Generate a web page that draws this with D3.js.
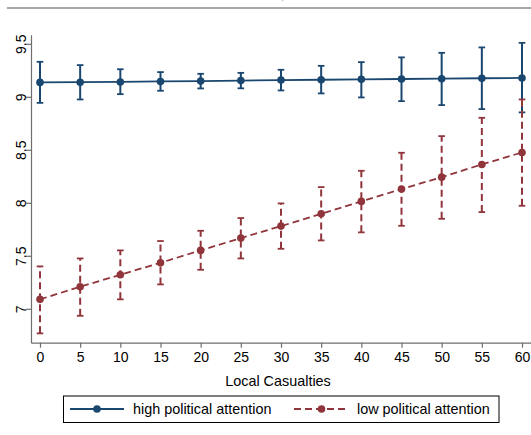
<!DOCTYPE html>
<meta charset="utf-8">
<script src="https://cdn.jsdelivr.net/npm/d3@7"></script>
<style>
	body{margin:0;background:#fff;font-family:"Liberation Sans",Arial,sans-serif;}
	svg text{font-family:"Liberation Sans",Arial,sans-serif;}
</style>
<div id="chart"></div>
<script>
// local casualties on the x axis
var casualties = [0,5,10,15,20,25,30,35,40,45,50,55,60]
// high political attention: point estimate and 95% CI
var highEst = [9.136,9.138,9.140,9.145,9.148,9.153,9.158,9.161,9.165,9.168,9.171,9.175,9.178]
var highLo  = [8.943,8.975,9.025,9.057,9.079,9.080,9.060,9.032,8.994,8.959,8.922,8.884,8.853]
var highHi  = [9.330,9.299,9.260,9.233,9.217,9.226,9.255,9.292,9.327,9.372,9.415,9.466,9.509]
// low political attention
var lowEst = [7.089,7.208,7.321,7.434,7.551,7.667,7.780,7.896,8.013,8.129,8.242,8.362,8.475]
var lowLo  = [6.768,6.934,7.089,7.230,7.368,7.475,7.566,7.645,7.721,7.783,7.849,7.912,7.972]
var lowHi  = [7.400,7.475,7.551,7.639,7.736,7.856,7.994,8.148,8.302,8.472,8.629,8.802,8.975]

var yTicks = [7,7.5,8,8.5,9,9.5]
var xTicks = casualties
var xTitle = "Local Casualties"
var legendNames = ["high political attention","low political attention"]

var navy = "#1a476f", maroon = "#90353b"

var svg = d3.select("#chart").append("svg")
	.attr("width",531)
	.attr("height",435)

// top border of the graph region (the title above is cut off)
svg.append("line").attr("x1",7).attr("x2",531).attr("y1",8).attr("y2",8)
	.attr("stroke","#8a8a8a").attr("stroke-width",1.3)
svg.append("text").attr("x",281).attr("y",-1).attr("font-size",12).text(",")

var x = d3.scaleLinear().domain([-1.12,61.12]).range([31,531])
var y = d3.scaleLinear().domain([6.68,9.585]).range([342.7,34.8])

var yAxis = d3.axisLeft(y).tickValues(yTicks).tickSize(5).tickSizeOuter(0)
	.tickFormat(function(d){return d3.format("")(d)})
var xAxis = d3.axisBottom(x).tickValues(xTicks).tickSize(5).tickSizeOuter(0)

var gy = svg.append("g").attr("transform","translate(31,0)").call(yAxis)
gy.selectAll("text").attr("transform","rotate(-90)")
	.attr("x",0).attr("y",-5).attr("dy","0")
	.attr("text-anchor","middle")
	.attr("font-size",14).attr("fill","#000")

var gx = svg.append("g").attr("transform","translate(0,342.7)").call(xAxis)
gx.selectAll("text").attr("font-size",14).attr("fill","#000").attr("y",9)

svg.selectAll(".domain, .tick line").attr("stroke","#6e6e6e").attr("stroke-width",1.2)

svg.append("text").attr("x",278).attr("y",386).attr("text-anchor","middle")
	.attr("font-size",14.4).text(xTitle)

function drawSeries(est,lo,hi,color,dash){
	var pts = casualties.map(function(c,i){return {c:c,e:est[i],l:lo[i],h:hi[i]}})
	var g = svg.append("g")
	g.append("path").datum(pts)
		.attr("fill","none").attr("stroke",color).attr("stroke-width",1.8)
		.attr("stroke-dasharray",dash)
		.attr("d",d3.line().x(function(d){return x(d.c)}).y(function(d){return y(d.e)}))
	g.selectAll(".ci").data(pts).enter().append("line")
		.attr("x1",function(d){return x(d.c)}).attr("x2",function(d){return x(d.c)})
		.attr("y1",function(d){return y(d.l)}).attr("y2",function(d){return y(d.h)})
		.attr("stroke",color).attr("stroke-width",2).attr("stroke-dasharray",dash)
	g.selectAll(".capt").data(pts).enter().append("line")
		.attr("x1",function(d){return x(d.c)-3.3}).attr("x2",function(d){return x(d.c)+3.3})
		.attr("y1",function(d){return y(d.h)}).attr("y2",function(d){return y(d.h)})
		.attr("stroke",color).attr("stroke-width",1.8)
	g.selectAll(".capb").data(pts).enter().append("line")
		.attr("x1",function(d){return x(d.c)-3.3}).attr("x2",function(d){return x(d.c)+3.3})
		.attr("y1",function(d){return y(d.l)}).attr("y2",function(d){return y(d.l)})
		.attr("stroke",color).attr("stroke-width",1.8)
	g.selectAll("circle").data(pts).enter().append("circle")
		.attr("cx",function(d){return x(d.c)}).attr("cy",function(d){return y(d.e)})
		.attr("r",3.8).attr("fill",color)
}
drawSeries(highEst,highLo,highHi,navy,null)
drawSeries(lowEst,lowLo,lowHi,maroon,"7,4")

// legend
var lg = svg.append("g")
lg.append("rect").attr("x",63.5).attr("y",396).attr("width",435.5).attr("height",26.5)
	.attr("fill","#fff").attr("stroke","#000").attr("stroke-width",1)
var items = [
	{name:legendNames[0],color:navy,dash:null,x0:70,x1:124,tx:133},
	{name:legendNames[1],color:maroon,dash:"7,4",x0:294,x1:349,tx:357}
]
items.forEach(function(it){
	lg.append("line").attr("x1",it.x0).attr("x2",it.x1).attr("y1",409).attr("y2",409)
		.attr("stroke",it.color).attr("stroke-width",1.8).attr("stroke-dasharray",it.dash)
	lg.append("circle").attr("cx",(it.x0+it.x1)/2).attr("cy",409).attr("r",3.8).attr("fill",it.color)
	lg.append("text").attr("x",it.tx).attr("y",414).attr("font-size",14.4).text(it.name)
})
</script>
